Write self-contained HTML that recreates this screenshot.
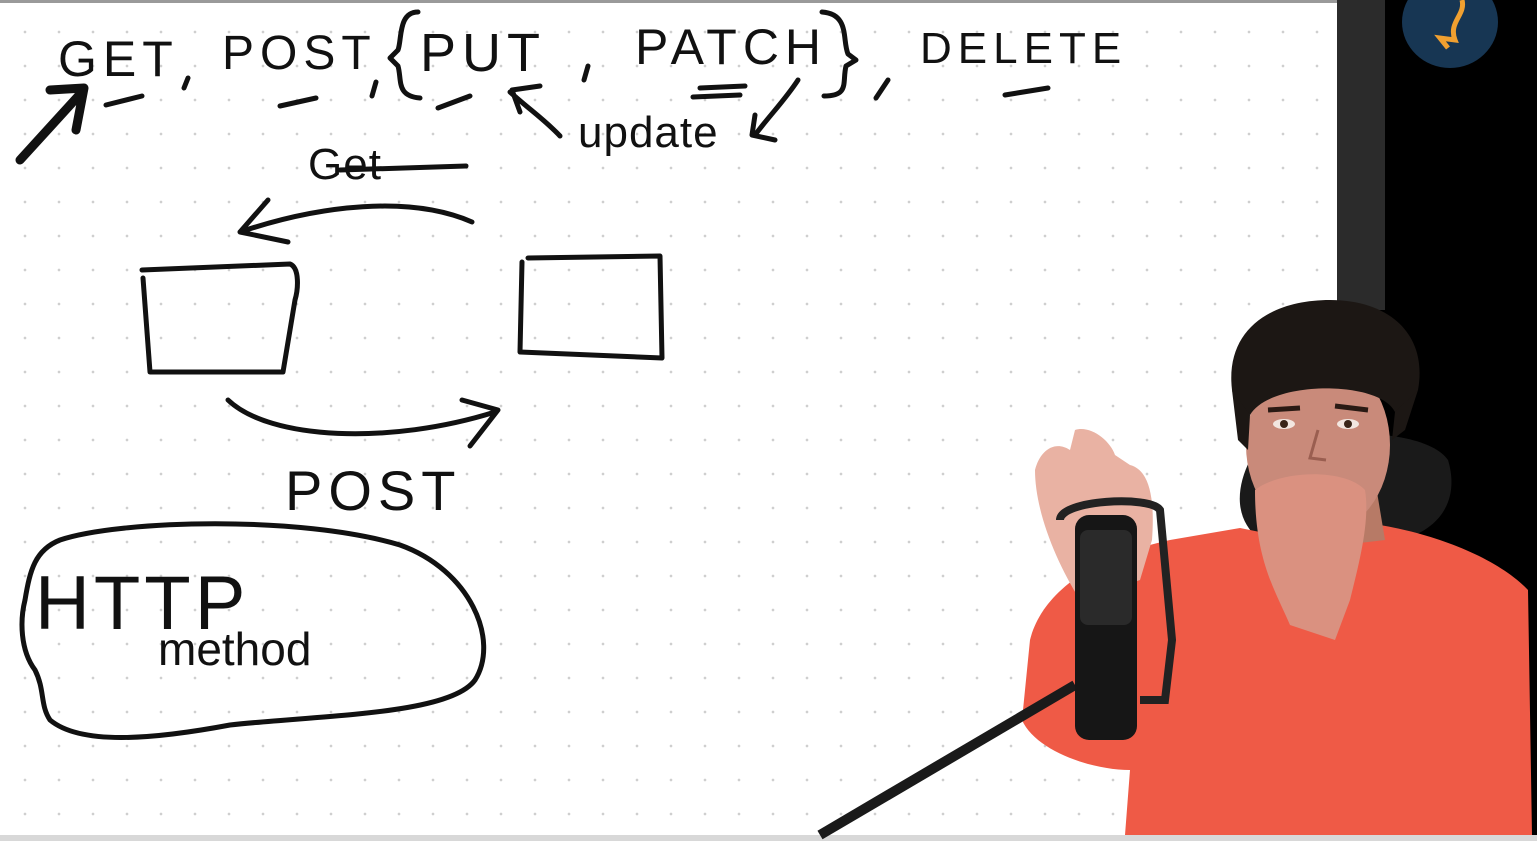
<!DOCTYPE html>
<html><head><meta charset="utf-8"><style>
html,body{margin:0;padding:0;}
body{width:1537px;height:841px;overflow:hidden;background:#000;position:relative;font-family:"Liberation Sans",sans-serif;}
#board{position:absolute;left:0;top:3px;width:1337px;height:832px;background-color:#fff;
background-image:radial-gradient(circle,#cfcfcf 1.1px,transparent 1.6px);background-size:34px 34px;background-position:8px 12px;}
#strip{position:absolute;left:1337px;top:0;width:48px;height:310px;background:#2b2b2b;}
#bottombar{position:absolute;left:0;top:835px;width:1537px;height:6px;background:#d8d8d8;}
#topbar{position:absolute;left:0;top:0;width:1337px;height:3px;background:#9a9a9a;}
.t{position:absolute;color:#111;font-family:"Liberation Sans",sans-serif;white-space:nowrap;letter-spacing:6px;}
svg{position:absolute;left:0;top:0;}
</style></head><body>
<div id="board"></div>
<div id="topbar"></div>
<div id="strip"></div>
<div id="bottombar"></div>

<div class="t" style="left:58px;top:30px;font-size:50px;">GET</div>
<div class="t" style="left:222px;top:26px;font-size:48px;">POST</div>
<div class="t" style="left:420px;top:22px;font-size:54px;">PUT</div>
<div class="t" style="left:635px;top:18px;font-size:50px;">PATCH</div>
<div class="t" style="left:920px;top:24px;font-size:44px;">DELETE</div>
<div class="t" style="left:578px;top:108px;font-size:44px;letter-spacing:1px;">update</div>
<div class="t" style="left:308px;top:140px;font-size:44px;letter-spacing:1px;">Get</div>
<div class="t" style="left:285px;top:458px;font-size:56px;">POST</div>
<div class="t" style="left:35px;top:560px;font-size:76px;letter-spacing:4px;">HTTP</div>
<div class="t" style="left:158px;top:622px;font-size:46px;letter-spacing:0px;">method</div>

<svg width="1537" height="841">
 <g fill="none" stroke="#111" stroke-width="5" stroke-linecap="round" stroke-linejoin="round">
  <path d="M20 160 L82 92 M50 90 L84 88 L76 130" stroke-width="9"/>
  <path d="M106 105 L142 96 M280 106 L316 98 M438 108 L470 96 M700 88 L745 86 M693 97 L740 95 M1005 95 L1048 88"/>
  <path d="M188 78 L184 88 M376 82 L372 96 M588 66 L584 80 M888 80 L876 98"/>
  <path d="M418 12 C398 12 402 40 398 50 L390 58 L398 66 C402 80 396 96 420 98"/>
  <path d="M822 12 C850 14 842 40 848 54 L856 60 L846 66 C842 82 850 96 824 96"/>
  <path d="M510 92 C530 110 545 120 560 136 M512 90 L540 86 M512 90 L520 112"/>
  <path d="M798 80 C785 100 770 115 755 135 M752 135 L775 140 M752 135 L755 115"/>
  <path d="M340 170 L466 166"/>
  <path d="M472 222 C410 195 320 205 240 232 M240 232 L268 200 M240 232 L288 242"/>
  <path d="M142 270 L290 264 C300 268 298 290 295 300 L283 372 L150 372 L143 278"/>
  <path d="M528 258 L660 256 L662 358 L520 352 L522 262"/>
  <path d="M228 400 C270 440 390 445 495 412 M462 400 L498 410 L470 446"/>
  <path d="M60 540 C120 520 300 515 400 545 C470 570 500 640 475 680 C450 715 320 715 230 725 C150 740 80 745 50 720 C40 705 45 690 35 670 C20 650 20 620 25 600 C30 570 35 550 60 540 Z"/>
 </g>
 <ellipse cx="1450" cy="22" rx="48" ry="46" fill="#173653"/>
 <path d="M1462 0 C1466 15 1448 22 1455 40 L1440 38 L1448 48" fill="none" stroke="#f0a030" stroke-width="5"/>
 <path d="M1250 460 C1270 430 1420 420 1448 460 C1460 500 1440 530 1400 540 L1260 540 C1235 520 1235 490 1250 460 Z" fill="#1a1a1a"/>
 <path d="M1030 640 C1040 600 1080 560 1170 540 L1240 528 L1300 540 L1380 525 C1440 535 1500 560 1528 590 L1532 835 L1125 835 L1130 770 C1090 770 1035 750 1022 720 Z" fill="#ef5a46"/>
 <path d="M1275 480 L1375 480 L1385 540 L1300 550 L1270 520 Z" fill="#b77a66"/>
 <ellipse cx="1318" cy="445" rx="72" ry="90" fill="#c98a7a"/>
 <path d="M1232 390 C1225 330 1270 300 1330 300 C1390 300 1428 335 1418 390 C1412 400 1405 410 1395 412 C1380 380 1270 380 1250 415 C1240 410 1234 400 1232 390 Z" fill="#1c1714"/>
 <path d="M1232 390 L1250 415 L1248 450 L1238 440 Z M1418 390 L1395 412 L1392 440 L1405 430 Z" fill="#1c1714"/>
 <path d="M1268 410 L1300 408 M1335 406 L1368 410" stroke="#2a1a14" stroke-width="5"/>
 <ellipse cx="1284" cy="424" rx="11" ry="5" fill="#f2e6e0"/>
 <ellipse cx="1348" cy="424" rx="11" ry="5" fill="#f2e6e0"/>
 <circle cx="1284" cy="424" r="4" fill="#3a2418"/>
 <circle cx="1348" cy="424" r="4" fill="#3a2418"/>
 <path d="M1318 430 L1310 458 L1326 460" fill="none" stroke="#9a5e50" stroke-width="3"/>
 <path d="M1255 490 C1280 470 1345 468 1365 490 C1370 520 1360 560 1350 600 L1335 640 L1290 625 C1275 590 1255 560 1255 490 Z" fill="#da9180"/>
 <path d="M1035 470 C1040 450 1055 440 1070 450 L1075 430 C1090 425 1110 440 1115 455 L1130 465 C1150 470 1155 500 1152 540 L1140 580 L1080 600 C1055 560 1035 510 1035 470 Z" fill="#e9b2a3"/>
 <path d="M820 835 L1075 685" stroke="#1a1a1a" stroke-width="10"/>
 <path d="M1060 520 C1060 500 1150 495 1160 510 L1172 640 L1165 700 L1140 700" fill="none" stroke="#222" stroke-width="8"/>
 <rect x="1075" y="515" width="62" height="225" rx="14" fill="#161616"/>
 <rect x="1080" y="530" width="52" height="95" rx="8" fill="#2a2a2a"/>
</svg>
</body></html>
